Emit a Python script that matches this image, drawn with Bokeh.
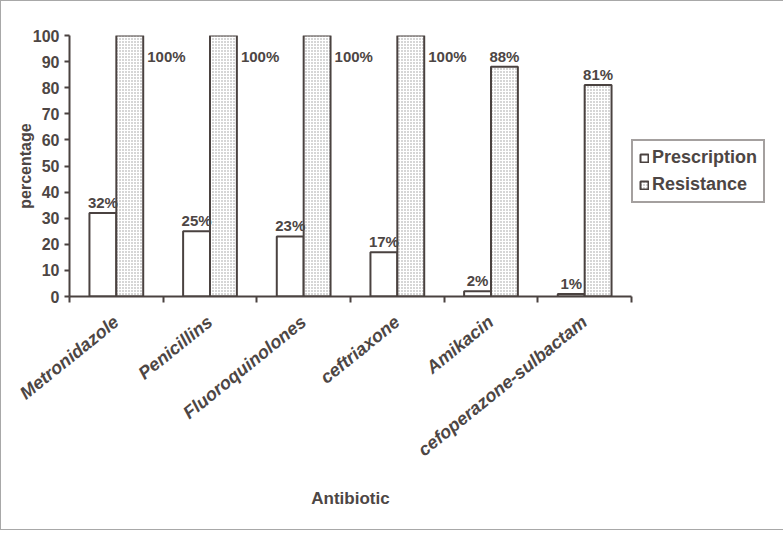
from bokeh.plotting import figure
from bokeh.models import ColumnDataSource, FixedTicker, Legend, LegendItem, LabelSet, Range1d
from bokeh.transform import dodge
from bokeh.core.properties import value
from bokeh.embed import file_html
from bokeh.resources import INLINE

categories = ["Metronidazole", "Penicillins", "Fluoroquinolones", "ceftriaxone",
              "Amikacin", "cefoperazone-sulbactam"]
prescription = [32, 25, 23, 17, 2, 1]
resistance = [100, 100, 100, 100, 88, 81]
y_ticks = [0, 10, 20, 30, 40, 50, 60, 70, 80, 90, 100]

TEXT = "#4d4644"
LINE = "#4a4240"
FONT = "Liberation Sans"

n = len(categories)
xs = list(range(n))
bw = 0.287

src = ColumnDataSource(dict(x=xs, prescription=prescription, resistance=resistance,
                            plab=[f"{v}%" for v in prescription],
                            rlab=[f"{v}%" for v in resistance]))

p = figure(frame_width=562, frame_height=261,
           x_range=Range1d(-0.5, n - 0.5), y_range=Range1d(0, 100),
           output_backend="svg", toolbar_location=None,
           min_border_left=68, min_border_top=34, min_border_right=146, min_border_bottom=233)
p.styles = {"border": "1px solid #a8a8a8"}
p.outline_line_color = None
p.xgrid.grid_line_color = None
p.ygrid.grid_line_color = None
p.background_fill_color = "white"

r1 = p.vbar(x=dodge("x", -bw / 2, range=p.x_range), top="prescription", width=bw, source=src,
            fill_color="white", line_color=LINE, line_width=2)
r2 = p.vbar(x=dodge("x", bw / 2, range=p.x_range), top="resistance", width=bw, source=src,
            fill_color="white", line_color=LINE, line_width=2,
            hatch_pattern="dot", hatch_color="#999999", hatch_scale=3, hatch_weight=1)

# labels
lab_font = dict(text_font=value(FONT), text_font_size=value("15px"),
                text_font_style=value("bold"), text_color=value(TEXT))
p.add_layout(LabelSet(x=dodge("x", -bw / 2, range=p.x_range), y="prescription", text="plab",
                      source=src, text_align="center", text_baseline="alphabetic", y_offset=5,
                      **lab_font))
top_idx = [i for i in range(n) if resistance[i] >= 100]
oth_idx = [i for i in range(n) if resistance[i] < 100]
src_top = ColumnDataSource(dict(x=[xs[i] for i in top_idx], y=[resistance[i] for i in top_idx],
                                t=[f"{resistance[i]}%" for i in top_idx]))
src_oth = ColumnDataSource(dict(x=[xs[i] for i in oth_idx], y=[resistance[i] for i in oth_idx],
                                t=[f"{resistance[i]}%" for i in oth_idx]))
p.add_layout(LabelSet(x=dodge("x", bw, range=p.x_range), y="y", text="t", source=src_top,
                      text_align="left", text_baseline="top", x_offset=4, y_offset=-12, **lab_font))
p.add_layout(LabelSet(x=dodge("x", bw / 2, range=p.x_range), y="y", text="t", source=src_oth,
                      text_align="center", text_baseline="alphabetic", y_offset=5, **lab_font))

# y axis
ya = p.yaxis[0]
ya.ticker = FixedTicker(ticks=y_ticks)
ya.axis_label = "percentage"
ya.axis_label_text_font = FONT
ya.axis_label_text_font_size = "16px"
ya.axis_label_text_font_style = "bold"
ya.axis_label_text_color = TEXT
ya.axis_label_standoff = -4
ya.major_label_text_font = FONT
ya.major_label_text_font_size = "16px"
ya.major_label_text_font_style = "bold"
ya.major_label_text_color = TEXT
ya.axis_line_color = LINE
ya.axis_line_width = 2
ya.major_tick_line_color = LINE
ya.major_tick_line_width = 2
ya.major_tick_in = 0
ya.major_tick_out = 5
ya.minor_tick_line_color = None

# x axis
xa = p.xaxis[0]
xa.ticker = FixedTicker(ticks=xs, minor_ticks=[i - 0.5 for i in range(n + 1)])
xa.major_label_overrides = {xs[i]: categories[i] for i in range(n)}
xa.major_label_orientation = 0.68
xa.major_label_text_font = FONT
xa.major_label_text_font_size = "18px"
xa.major_label_text_font_style = "bold italic"
xa.major_label_text_color = TEXT
xa.major_label_standoff = 17
xa.major_tick_line_color = None
xa.minor_tick_line_color = LINE
xa.minor_tick_line_width = 2
xa.minor_tick_in = 0
xa.minor_tick_out = 6
xa.axis_line_color = LINE
xa.axis_line_width = 2
xa.axis_label = "Antibiotic"
xa.axis_label_text_font = FONT
xa.axis_label_text_font_size = "17px"
xa.axis_label_text_font_style = "bold"
xa.axis_label_text_color = TEXT
xa.axis_label_standoff = 18

legend = Legend(items=[LegendItem(label="Prescription", renderers=[r1]),
                       LegendItem(label="Resistance", renderers=[r2])],
                location=(0, 93), margin=0, padding=6, spacing=6,
                border_line_color=LINE, border_line_width=2,
                label_text_font=FONT, label_text_font_size="18px", label_text_font_style="bold",
                label_text_color=TEXT, glyph_width=10, glyph_height=10, label_standoff=3,
                label_height=20, background_fill_color="white")
p.add_layout(legend, "right")

open("out.html", "w").write(file_html(p, INLINE))
